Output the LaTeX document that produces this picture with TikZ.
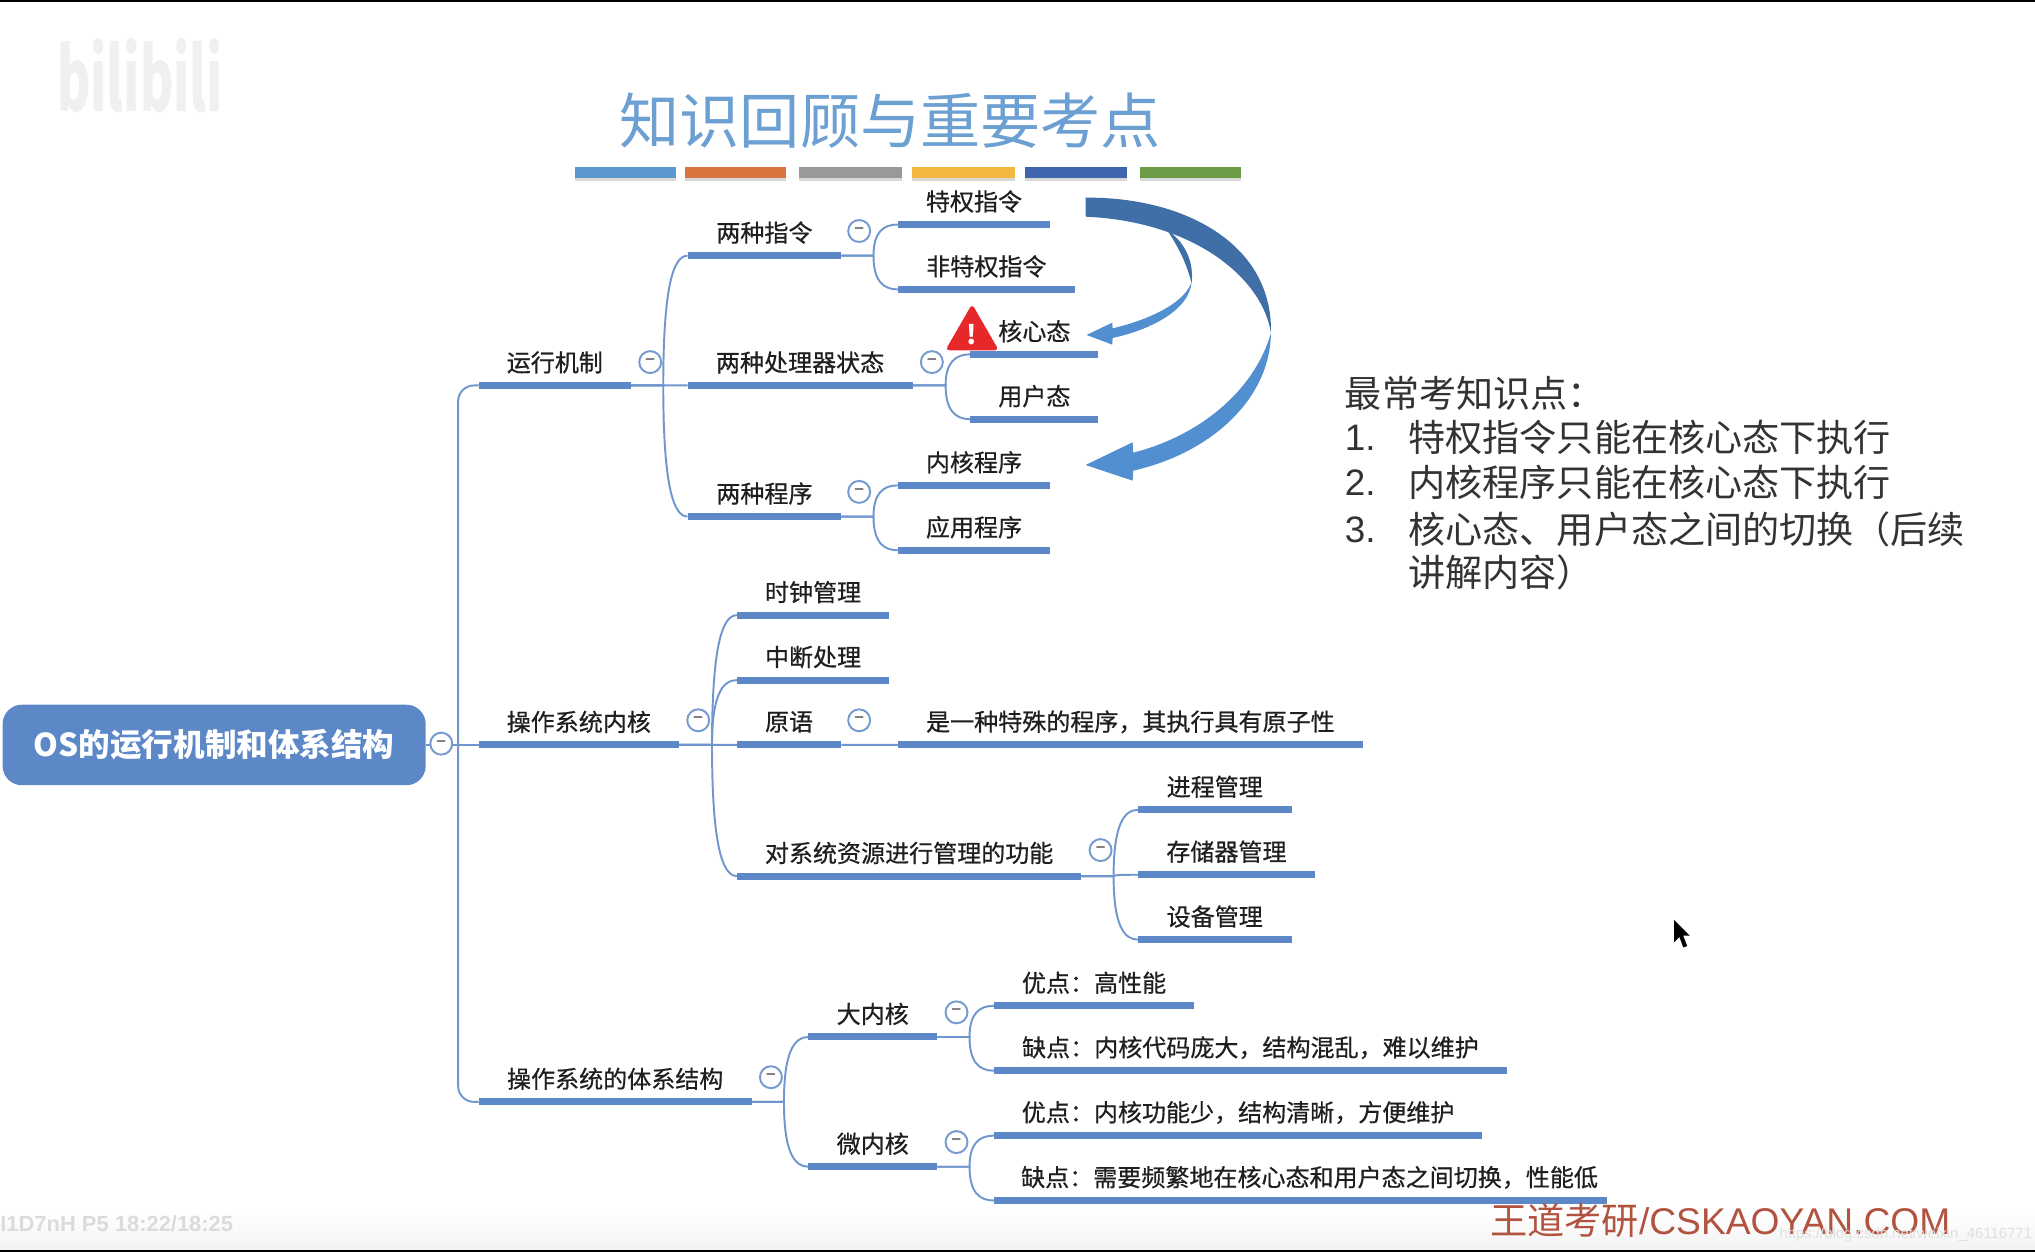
\documentclass[tikz,border=0pt]{standalone}
\usepackage{fontspec}
\usepackage{tikz}
\usetikzlibrary{arrows.meta,positioning,calc,shapes.geometric,shadows}
\setmainfont{Noto Sans CJK SC}
\newfontfamily\treefont[FakeBold=0.6]{Noto Sans CJK SC}
\newfontfamily\latinfont{Liberation Sans}
\definecolor{TreeBlue}{HTML}{5C88C8}
\definecolor{LinkBlue}{HTML}{6F97CE}
\definecolor{TitleBlue}{HTML}{6C9FD2}
\definecolor{ArrowDark}{HTML}{3F6FA6}
\definecolor{ArrowLight}{HTML}{528FD0}
\definecolor{WarnRed}{HTML}{E6282B}
\definecolor{FootRed}{HTML}{B25340}
\definecolor{BarOrange}{HTML}{D9743F}
\definecolor{BarGray}{HTML}{999999}
\definecolor{BarYellow}{HTML}{F3B63E}
\definecolor{BarNavy}{HTML}{3F65AE}
\definecolor{BarGreen}{HTML}{6C9B45}
\definecolor{BarBlue}{HTML}{5B96CE}
\tikzset{
  topic/.style={inner sep=0pt, minimum height=0.91cm, anchor=south, text=black!88,
    font=\treefont\fontsize{13.7}{16}\selectfont},
  topicline/.style={TreeBlue, line width=4pt},
  link/.style={LinkBlue, line width=1.1pt},
  collapse/.style={circle, draw=TreeBlue!85, fill=white, line width=1.1pt, inner sep=0pt,
    minimum size=0.44cm, text=black!50, font=\bfseries\fontsize{9}{9}\selectfont},
  note/.style={anchor=west, inner sep=0pt, text=black!80, font=\fontsize{21.15}{24.5}\selectfont, align=left}
}
\begin{document}
\begin{tikzpicture}[x=0.026cm, y=-0.026cm]
  \useasboundingbox (0,0) rectangle (1568,965);
  \fill[white] (0,0) rectangle (1568,965);
  \shade[top color=white, bottom color=black!5] (0,935) rectangle (1568,963);
  \fill[black] (0,0) rectangle (1568,1.3);
  \fill[black] (0,963.5) rectangle (1568,965);
  \node[black!6, inner sep=0pt, xscale=0.58, font=\bfseries\fontsize{50}{50}\selectfont] (logo) at (108,58) {bilibili};
  \node[black!14, anchor=west, inner sep=0pt, font=\latinfont\bfseries\fontsize{12.5}{14}\selectfont] (stamp) at (0,943) {I1D7nH P5 18:22/18:25};
  \node[TitleBlue, inner sep=0pt, font=\fontsize{34.3}{40}\selectfont] (title) at (686,93) {知识回顾与重要考点};
  \foreach \col/\xa/\xb in {BarBlue/443/521, BarOrange/528/606, BarGray/616/695, BarYellow/703/782, BarNavy/790/868, BarGreen/878/956} {
    \fill[\col, drop shadow={shadow xshift=0pt, shadow yshift=-2pt, opacity=0.3}] (\xa,129) rectangle (\xb,137);
  }
  \node[rectangle, rounded corners=11pt, fill=TreeBlue, text=white, inner sep=0pt, minimum width=326*0.026cm, minimum height=62*0.026cm,
    font=\bfseries\fontsize{18}{20}\selectfont] (root) at (165,574) {OS的运行机制和体系结构};
  \foreach \nm/\xa/\xb/\yy/\txt in {
    run/369/486/297/运行机制, instr/530/648/197/两种指令, priv/692/809/173/特权指令, nonpriv/692/828/223/非特权指令,
    cpu/530/703/297/两种处理器状态, kernel/748/846/273/核心态, user/748/846/323/用户态,
    prog/530/648/398/两种程序, kprog/692/809/374/内核程序, aprog/692/809/424/应用程序,
    core/369/523/574/操作系统内核, clock/568/685/474/时钟管理, intr/568/685/524/中断处理, prim/568/648/574/原语,
    primdef/692/1050/574/是一种特殊的程序，其执行具有原子性, res/568/833/675/对系统资源进行管理的功能,
    proc/877/995/624/进程管理, mem/877/1013/674/存储器管理, dev/877/995/724/设备管理,
    arch/369/579/849/操作系统的体系结构, big/623/722/799/大内核, micro/623/722/899/微内核,
    bigp/766/920/775/优点：高性能, bigc/766/1161/825/缺点：内核代码庞大，结构混乱，难以维护,
    microp/766/1142/875/优点：内核功能少，结构清晰，方便维护, microc/766/1238/925/\hspace*{10.4pt}缺点：需要频繁地在核心态和用户态之间切换，性能低} {
    \node[topic, minimum width=(\xb-\xa)*0.026cm] (\nm) at ({(\xa+\xb)/2},\yy) {\txt};
    \draw[topicline] (\nm.south west) -- (\nm.south east);
  }
  \draw[link] (root.east) -- (core.south west);
  \foreach \dst in {run,arch} {
    \draw[link, rounded corners=9pt] (353,574) -- (353,0 |- \dst.south west) -- (\dst.south west);
  }
  \foreach \src/\dst in {run/instr, run/cpu, run/prog, instr/priv, instr/nonpriv, cpu/kernel, cpu/user, prog/kprog, prog/aprog,
    core/clock, core/intr, core/prim, core/res, prim/primdef, res/proc, res/mem, res/dev,
    arch/big, arch/micro, big/bigp, big/bigc, micro/microp, micro/microc} {
    \coordinate (bus) at ($(\src.south east)!0.57!(\dst.south west |- \src.south east)$);
    \draw[link] (\src.south east) -- (bus) .. controls ($(bus)!0.75!(bus |- \dst.south west)$) and ($(\dst.south west)!0.6!(bus |- \dst.south west)$) .. (\dst.south west);
  }
  \foreach \nm/\xa/\yy in {c0/340/573, c1/501/279, c2/662/178, c3/718/279, c4/662/379, c5/538/555, c6/662/555, c7/848/655, c8/594/830, c9/737/780, c10/737/880} {
    \node[collapse] (\nm) at (\xa,\yy) {−};
  }
  \node[regular polygon, regular polygon sides=3, fill=WarnRed, draw=WarnRed, line width=1pt, rounded corners=1.5pt, inner sep=0pt, minimum size=1.12cm,
    text=white, font=\bfseries\fontsize{15}{15}\selectfont] (warn) at (749,258) {!};
  \begin{scope}[shift={(801.3,138.7)}, scale=0.2568]
    \fill[ArrowDark] (137,53) .. controls (430,50) and (700,190) .. (693,460) .. controls (670,300) and (470,125) .. (137,110) -- cycle;
    \fill[ArrowLight] (693,460) .. controls (690,660) and (510,820) .. (280,872) -- (278,902) -- (137,855) -- (278,787) -- (280,818) .. controls (470,770) and (640,640) .. (693,460) -- cycle;
    \fill[ArrowDark] (380,148) .. controls (440,190) and (462,250) .. (455,310) .. controls (438,240) and (405,185) .. (380,148) -- cycle;
    \fill[ArrowLight] (455,305) .. controls (450,390) and (330,450) .. (218,474) -- (217,494) -- (140,465) -- (217,428) -- (218,445) .. controls (325,420) and (435,370) .. (455,305) -- cycle;
  \end{scope}
  \node[note] (notehead) at (1036,303) {最常考知识点：};
  \node[note, font=\latinfont\fontsize{21}{24.5}\selectfont] (n1) at (1036,337) {1.};
  \node[note] (t1) at (1085,337) {特权指令只能在核心态下执行};
  \node[note, font=\latinfont\fontsize{21}{24.5}\selectfont] (n2) at (1036,372) {2.};
  \node[note] (t2) at (1085,372) {内核程序只能在核心态下执行};
  \node[note, font=\latinfont\fontsize{21}{24.5}\selectfont] (n3) at (1036,408) {3.};
  \node[note, anchor=north west] (t3) at (1085,394) {核心态、用户态之间的切换（后续\\讲解内容）};
  \fill[black] (1290,709) -- (1290,726) -- (1294,722) -- (1297,730) -- (1300,729) -- (1297,721) -- (1302,721) -- cycle;
  \node[FootRed, anchor=west, inner sep=0pt, font=\fontsize{21.2}{24}\selectfont] (foot) at (1148,940) {王道考研{\latinfont /CSKAOYAN.COM}};
  \node[black!12, anchor=east, inner sep=0pt, font=\latinfont\fontsize{8.5}{10}\selectfont] (url) at (1566,951) {https://blog.csdn.net/weixin\_46116771};
\end{tikzpicture}
\end{document}
